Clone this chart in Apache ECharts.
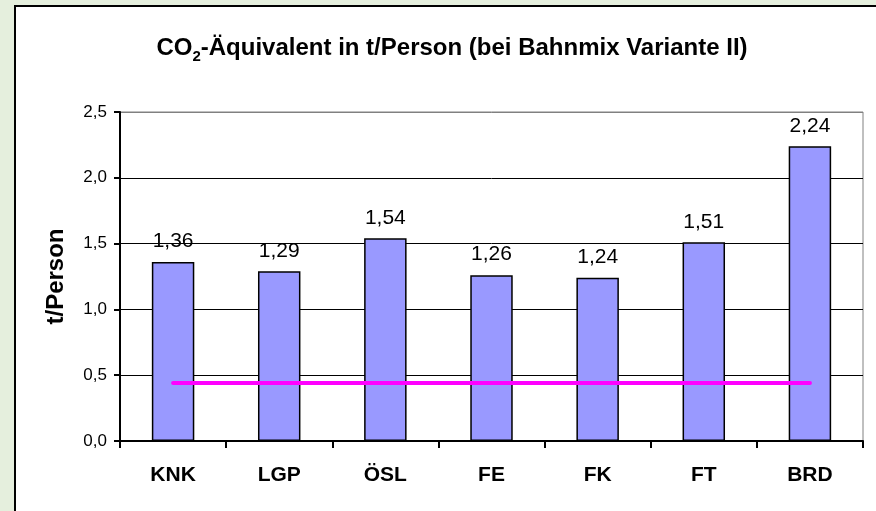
<!DOCTYPE html>
<html><head><meta charset="utf-8">
<script src="https://cdn.jsdelivr.net/npm/echarts@6/dist/echarts.min.js"></script>
<style>
html,body{margin:0;padding:0;background:#E5EFDD;}
#panel{position:absolute;left:14px;top:5px;width:880px;height:520px;background:#fff;border:2px solid #000;box-sizing:border-box;}
#c{position:absolute;left:0;top:0;width:876px;height:511px;}
</style>
</head><body>
<div id="panel"></div>
<div id="c"></div>
<script>
var categories = ['KNK','LGP','ÖSL','FE','FK','FT','BRD'];
var values = [1.36, 1.29, 1.54, 1.26, 1.24, 1.51, 2.24];
var referenceLine = [0.44, 0.44, 0.44, 0.44, 0.44, 0.44, 0.44];
var yTicks = [0, 0.5, 1.0, 1.5, 2.0, 2.5];

var FONT = 'Liberation Sans, Arial, sans-serif';
var fmt = function(v){ return v.toFixed(1).replace('.', ','); };
var chart = echarts.init(document.getElementById('c'), null, {renderer:'canvas'});
chart.setOption({
  backgroundColor: 'transparent',
  textStyle: {fontFamily: FONT},
  title: {
    text: '{a|CO}{s|2}{a|-Äquivalent in t/Person (bei Bahnmix Variante II)}',
    left: 447, top: 27, textAlign: 'center',
    textStyle: {
      rich: {
        a: {fontSize: 24, fontWeight: 'bold', color: '#000', fontFamily: FONT, lineHeight: 28, verticalAlign: 'bottom'},
        s: {fontSize: 15, fontWeight: 'bold', color: '#000', fontFamily: FONT, lineHeight: 28, verticalAlign: 'bottom', padding: [0,0,-4,0]}
      }
    }
  },
  grid: {left: 120, right: 13, top: 112, bottom: 70, show: true, borderColor: '#808080', borderWidth: 1, backgroundColor: 'transparent'},
  xAxis: {
    type: 'category', data: categories,
    axisLine: {lineStyle: {color: '#000', width: 2}},
    axisTick: {show: true, length: 7, lineStyle: {color: '#000', width: 2}},
    axisLabel: {color: '#000', fontSize: 21, fontWeight: 'bold', margin: 24, fontFamily: FONT}
  },
  yAxis: {
    type: 'value', min: yTicks[0], max: yTicks[yTicks.length-1], interval: 0.5,
    name: 't/Person', nameLocation: 'middle', nameGap: 52, nameRotate: 90,
    nameTextStyle: {fontSize: 24, fontWeight: 'bold', color: '#000', fontFamily: FONT},
    axisLine: {show: true, lineStyle: {color: '#000', width: 2}},
    axisTick: {show: true, length: 6, lineStyle: {color: '#000', width: 2}},
    axisLabel: {color: '#000', fontSize: 17, margin: 13, formatter: fmt, fontFamily: FONT},
    splitLine: {show: true, lineStyle: {color: ['#000','#000','#000','#000','#000','#808080'], width: 1}}
  },
  series: [
    {
      type: 'bar', data: values, barCategoryGap: '60%',
      itemStyle: {color: '#9999FF', borderColor: '#000', borderWidth: 1.5},
      label: {show: true, position: 'top', distance: 10, color: '#000', fontSize: 21,
        fontFamily: FONT,
        formatter: function(p){ return p.value.toFixed(2).replace('.', ','); }},
      z: 2
    },
    {
      type: 'line', data: referenceLine, symbol: 'none',
      lineStyle: {color: '#FF00FF', width: 4, cap: 'round'},
      z: 3, silent: true
    }
  ],
  animation: false
});
</script>
</body></html>
